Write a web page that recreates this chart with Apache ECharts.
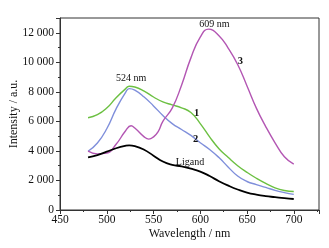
<!DOCTYPE html>
<html>
<head>
<meta charset="utf-8">
<script src="https://cdn.jsdelivr.net/npm/echarts@6/dist/echarts.min.js"></script>
<style>
html,body{margin:0;padding:0;background:#fff;}
#c{width:329px;height:248px;}
</style>
</head>
<body>
<div id="c"></div>
<script>
var wavelengths = [480,490,500,510,520,524,530,540,550,560,570,580,590,600,610,620,630,640,650,660,670,680,690,700];
var curve1 = [6250,6450,6900,7600,8200,8380,8330,8050,7650,7320,7120,6920,6600,5850,4950,4150,3550,3000,2550,2150,1800,1500,1320,1250];
var curve2 = [3980,4540,5500,6850,7950,8220,8120,7650,7050,6400,5850,5450,5050,4550,4100,3550,2900,2300,1930,1720,1530,1330,1180,1060];
var ligand = [3570,3720,3950,4180,4350,4380,4330,4080,3680,3280,3060,2950,2800,2600,2300,1950,1650,1390,1180,1040,940,870,800,745];
var wl3 = [480,490,500,510,520,526,530,540,545,550,555,560,570,580,590,600,609,620,630,640,650,660,670,680,690,700];
var curve3 = [3980,3800,3850,4450,5350,5700,5550,4950,4800,4950,5300,6000,6900,8450,10300,11700,12250,11800,10950,9850,8400,6900,5650,4550,3600,3100];
var yTicks = [0,2000,4000,6000,8000,10000,12000];
var xTicks = [450,500,550,600,650,700];

function pairs(xs, ys){ return xs.map(function(x,i){ return [x, ys[i]]; }); }
function fmtThousands(v){
  var s = String(Math.round(v));
  if (s.length > 3) s = s.slice(0, s.length-3) + ' ' + s.slice(s.length-3);
  return s;
}
var serif = '"Liberation Serif", "DejaVu Serif", serif';
function lbl(text, coord, bold){
  return {
    coord: coord, symbol: 'rect', symbolSize: [1,1],
    itemStyle: {color: 'rgba(0,0,0,0)'},
    label: {show: true, formatter: text, position: 'inside', color: '#111',
            fontFamily: serif, fontSize: bold ? 10.5 : 10, fontWeight: bold ? 'bold' : 'normal'}
  };
}

var chart = echarts.init(document.getElementById('c'));
chart.setOption({
  backgroundColor: '#fff',
  animation: false,
  grid: {left: 60, top: 18, right: 10, bottom: 38, show: true, borderColor: '#333', borderWidth: 1,
         backgroundColor: 'transparent', containLabel: false, outerBoundsMode: 'none'},
  xAxis: {
    type: 'value', min: 450, max: 727, interval: 50,
    name: 'Wavelength / nm', nameLocation: 'middle', nameGap: 18, nameMoveOverlap: false,
    nameTextStyle: {fontFamily: serif, fontSize: 12, color: '#111'},
    axisLine: {show: true, lineStyle: {color: '#333', width: 1}},
    axisTick: {show: true, inside: false, length: 4, lineStyle: {color: '#333'}},
    minorTick: {show: true, splitNumber: 2, length: 2, lineStyle: {color: '#333'}},
    splitLine: {show: false},
    axisLabel: {fontFamily: serif, fontSize: 11.5, color: '#111', margin: 4, showMaxLabel: false,
      formatter: function(v){ return xTicks.indexOf(v) >= 0 ? String(v) : ''; }}
  },
  yAxis: {
    type: 'value', min: 0, max: 13000, interval: 2000,
    name: 'Intensity / a.u.', nameLocation: 'middle', nameGap: 40, nameRotate: 90, nameMoveOverlap: false,
    nameTextStyle: {fontFamily: serif, fontSize: 12, color: '#111'},
    axisLine: {show: true, lineStyle: {color: '#333', width: 1}},
    axisTick: {show: true, inside: false, length: 4, lineStyle: {color: '#333'}},
    minorTick: {show: true, splitNumber: 2, length: 2, lineStyle: {color: '#333'}},
    splitLine: {show: false},
    axisLabel: {fontFamily: serif, fontSize: 11.5, color: '#111', margin: 6, showMaxLabel: false,
      formatter: function(v){ return yTicks.indexOf(v) >= 0 ? fmtThousands(v) : ''; }}
  },
  series: [
    {type: 'line', name: '1', data: pairs(wavelengths, curve1), smooth: 0.5, showSymbol: false,
     lineStyle: {color: '#6cc042', width: 1.4},
     markPoint: {data: [lbl('524 nm', [526, 8900], false), lbl('1', [596, 6560], true)]}},
    {type: 'line', name: '2', data: pairs(wavelengths, curve2), smooth: 0.5, showSymbol: false,
     lineStyle: {color: '#7f8fdb', width: 1.4},
     markPoint: {data: [lbl('2', [595, 4800], true)]}},
    {type: 'line', name: '3', data: pairs(wl3, curve3), smooth: 0.5, showSymbol: false,
     lineStyle: {color: '#b356b3', width: 1.4},
     markPoint: {data: [lbl('609 nm', [615, 12600], false), lbl('3', [643, 10050], true)]}},
    {type: 'line', name: 'Ligand', data: pairs(wavelengths, ligand), smooth: 0.5, showSymbol: false,
     lineStyle: {color: '#000', width: 1.8},
     markPoint: {data: [lbl('Ligand', [589, 3230], false)]}}
  ]
});
</script>
</body>
</html>
